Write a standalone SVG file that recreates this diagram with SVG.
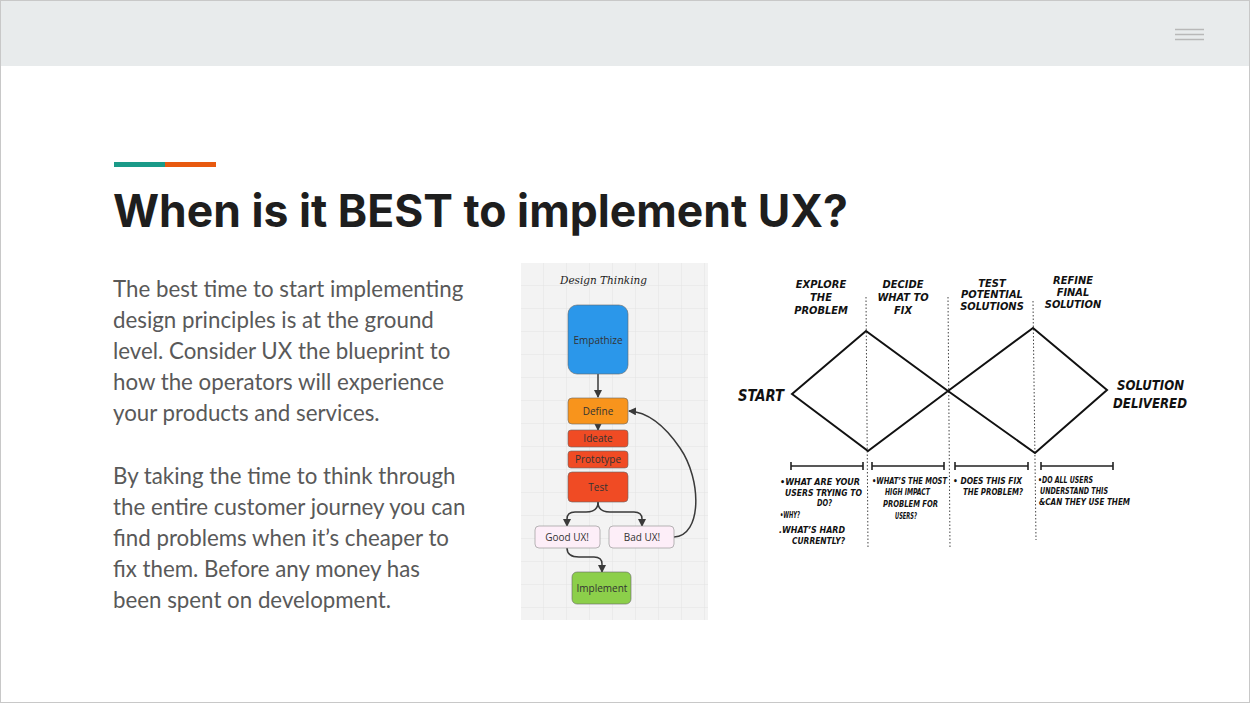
<svg xmlns="http://www.w3.org/2000/svg" width="1250" height="703" viewBox="0 0 1250 703">
<style>
.body{font-family:Lato,"Open Sans",sans-serif;font-size:22.3px;fill:#595959}
.title{font-family:Inter,"Open Sans",sans-serif;font-weight:700;font-size:45px;fill:#1e1e1e}
.nd{font-family:"Open Sans","Noto Sans",sans-serif;font-size:10px;fill:#333;text-anchor:middle}
.hand{font-family:"DejaVu Sans Condensed","DejaVu Sans",sans-serif;font-weight:700;font-style:italic;fill:#111}
.hh{font-size:11px;text-anchor:middle}
.sm{font-size:8px}
.line{fill:none;stroke:#111;stroke-width:2}
.dot{fill:none;stroke:#444;stroke-width:1;stroke-dasharray:1.5 2}
.bar{fill:none;stroke:#222;stroke-width:1.6}
.conn{fill:none;stroke:#3a3a3a;stroke-width:1.5}
</style>
<defs>
<marker id="ah" markerUnits="userSpaceOnUse" markerWidth="8" markerHeight="8" refX="7" refY="4" orient="auto">
<path d="M0,0 L8,4 L0,8 Z" fill="#3a3a3a"/>
</marker>
<pattern id="grid" width="23" height="23" patternUnits="userSpaceOnUse" x="521" y="263">
<rect width="23" height="23" fill="#f3f3f3"/>
<path d="M23,0 L23,23 M0,23 L23,23" stroke="#e4e4e4" stroke-width="1" fill="none"/>
</pattern>
</defs>
<rect x="0" y="0" width="1250" height="703" fill="#ffffff"/>
<rect x="0" y="0" width="1250" height="66" fill="#e8ebec"/>
<rect x="0.5" y="0.5" width="1249" height="702" fill="none" stroke="#c8c8c8" stroke-width="1"/>
<g id="menu" stroke="#b8b8b8" stroke-width="1.5">
<line x1="1175" y1="29.5" x2="1204" y2="29.5"/>
<line x1="1175" y1="34.5" x2="1204" y2="34.5"/>
<line x1="1175" y1="39.5" x2="1204" y2="39.5"/>
</g>
<rect x="114" y="162" width="51" height="5" fill="#1a9a88"/>
<rect x="165" y="162" width="51" height="5" fill="#e8590f"/>
<text class="title" x="113" y="227" textLength="735" lengthAdjust="spacingAndGlyphs">When is it BEST to implement UX?</text>
<g id="para1" class="body">
<text x="113" y="297">The best time to start implementing</text>
<text x="113" y="328">design principles is at the ground</text>
<text x="113" y="359">level. Consider UX the blueprint to</text>
<text x="113" y="390">how the operators will experience</text>
<text x="113" y="421">your products and services.</text>
</g>
<g id="para2" class="body">
<text x="113" y="484">By taking the time to think through</text>
<text x="113" y="515">the entire customer journey you can</text>
<text x="113" y="546">find problems when it’s cheaper to</text>
<text x="113" y="577">fix them. Before any money has</text>
<text x="113" y="608">been spent on development.</text>
</g>
<!-- Design thinking panel -->
<rect x="521" y="263" width="187" height="357" fill="url(#grid)"/>
<text x="560" y="284" font-family="'DejaVu Serif',serif" font-style="italic" font-size="11.5" fill="#222" textLength="87" lengthAdjust="spacingAndGlyphs">Design Thinking</text>
<g id="connectors">
<path class="conn" d="M598,374 L598,397" marker-end="url(#ah)"/>
<path class="conn" d="M598,424 L598,430" marker-end="url(#ah)"/>
<path class="conn" d="M598,502 Q598,512 586,512 L575,512 Q567,512 567,519 L567,526" marker-end="url(#ah)"/>
<path class="conn" d="M598,502 Q598,512 610,512 L634,512 Q642,512 642,519 L642,526" marker-end="url(#ah)"/>
<path class="conn" d="M567,548 Q567,557 579,557 L594,557 Q602,557 602,564 L602,572" marker-end="url(#ah)"/>
<path class="conn" d="M674,537 C702,536 702,480 680,448 C665,426 648,412 629,411" marker-end="url(#ah)"/>
</g>
<g id="empathize"><rect x="568" y="305" width="60" height="69" rx="9" fill="#2b97ea" stroke="#666" stroke-width="0.6"/><text class="nd" x="598" y="344">Empathize</text></g>
<g id="define"><rect x="568" y="398" width="60" height="26" rx="4" fill="#f8941c" stroke="#666" stroke-width="0.6"/><text class="nd" x="598" y="415">Define</text></g>
<g id="ideate"><rect x="568" y="430" width="60" height="17" rx="3" fill="#f04b24" stroke="#666" stroke-width="0.6"/><text class="nd" x="598" y="442">Ideate</text></g>
<g id="prototype"><rect x="568" y="451" width="60" height="17" rx="3" fill="#f04b24" stroke="#666" stroke-width="0.6"/><text class="nd" x="598" y="463">Prototype</text></g>
<g id="test"><rect x="568" y="472" width="60" height="30" rx="4" fill="#f04b24" stroke="#666" stroke-width="0.6"/><text class="nd" x="598" y="491">Test</text></g>
<g id="good"><rect x="535" y="526" width="65" height="22" rx="4" fill="#fdeef8" stroke="#999" stroke-width="0.7"/><text class="nd" x="567" y="541">Good UX!</text></g>
<g id="bad"><rect x="609" y="526" width="65" height="22" rx="4" fill="#fdeef8" stroke="#999" stroke-width="0.7"/><text class="nd" x="642" y="541">Bad UX!</text></g>
<g id="implement"><rect x="572" y="572" width="59" height="32" rx="5" fill="#8ccf4a" stroke="#666" stroke-width="0.6"/><text class="nd" x="602" y="592">Implement</text></g>
<!-- Double diamond -->
<g id="diamond">
<path class="dot" d="M866,297 L868,548 M948,297 L950,548 M1033,301 L1036,540"/>
<path class="line" d="M792,394 L866,331 L948,391 L1035,453 L1107,390 L1033,328 L948,391 L868,451 Z" stroke-linejoin="miter"/>
</g>
<g id="headers" class="hand hh">
<text x="821" y="288">EXPLORE</text><text x="821" y="301">THE</text><text x="821" y="314">PROBLEM</text>
<text x="903" y="288">DECIDE</text><text x="903" y="301">WHAT TO</text><text x="903" y="314">FIX</text>
<text x="992" y="287">TEST</text><text x="992" y="298">POTENTIAL</text><text x="992" y="310">SOLUTIONS</text>
<text x="1073" y="284">REFINE</text><text x="1073" y="296">FINAL</text><text x="1073" y="308">SOLUTION</text>
</g>
<g id="start" class="hand"><text x="738" y="401" font-size="16" textLength="46" lengthAdjust="spacingAndGlyphs">START</text></g>
<g id="delivered" class="hand">
<text x="1117" y="390" font-size="14" textLength="67" lengthAdjust="spacingAndGlyphs">SOLUTION</text>
<text x="1113" y="408" font-size="14" textLength="74" lengthAdjust="spacingAndGlyphs">DELIVERED</text>
</g>
<g id="bars">
<path class="bar" d="M791,466 L863,466 M791,462 L791,470 M863,462 L863,470"/>
<path class="bar" d="M872,466 L944,466 M872,462 L872,470 M944,462 L944,470"/>
<path class="bar" d="M955,466 L1028,466 M955,462 L955,470 M1028,462 L1028,470"/>
<path class="bar" d="M1041,466 L1113,466 M1041,462 L1041,470 M1113,462 L1113,470"/>
</g>
<g id="notes" class="hand sm">
<text x="780" y="485" textLength="80" lengthAdjust="spacingAndGlyphs">•WHAT ARE YOUR</text>
<text x="785" y="496" textLength="77" lengthAdjust="spacingAndGlyphs">USERS TRYING TO</text>
<text x="817" y="506" textLength="15" lengthAdjust="spacingAndGlyphs">DO?</text>
<text x="780" y="518" textLength="20" lengthAdjust="spacingAndGlyphs">•WHY?</text>
<text x="779" y="533" textLength="66" lengthAdjust="spacingAndGlyphs">.WHAT’S HARD</text>
<text x="792" y="544" textLength="53" lengthAdjust="spacingAndGlyphs">CURRENTLY?</text>
<text x="872" y="484" textLength="75" lengthAdjust="spacingAndGlyphs">•WHAT’S THE MOST</text>
<text x="885" y="495" textLength="45" lengthAdjust="spacingAndGlyphs">HIGH IMPACT</text>
<text x="883" y="507" textLength="55" lengthAdjust="spacingAndGlyphs">PROBLEM FOR</text>
<text x="895" y="519" textLength="22" lengthAdjust="spacingAndGlyphs">USERS?</text>
<text x="953" y="484" textLength="69" lengthAdjust="spacingAndGlyphs">• DOES THIS FIX</text>
<text x="963" y="495" textLength="60" lengthAdjust="spacingAndGlyphs">THE PROBLEM?</text>
<text x="1038" y="483" textLength="55" lengthAdjust="spacingAndGlyphs">•DO ALL USERS</text>
<text x="1040" y="494" textLength="68" lengthAdjust="spacingAndGlyphs">UNDERSTAND THIS</text>
<text x="1039" y="505" textLength="91" lengthAdjust="spacingAndGlyphs">&amp;CAN THEY USE THEM</text>
</g>
</svg>
